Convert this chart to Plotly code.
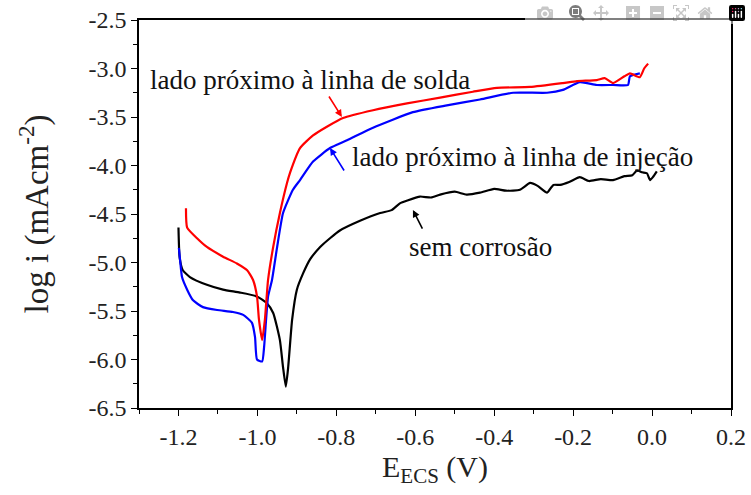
import plotly.graph_objects as go

# ---- data ----
sem_x = [-1.200, -1.197, -1.189, -1.171, -1.128, -1.087, -1.044, -1.001, -0.976, -0.960,
         -0.943, -0.935, -0.928, -0.922, -0.912, -0.900, -0.884, -0.867, -0.841, -0.816,
         -0.791, -0.740, -0.689, -0.660, -0.639, -0.620, -0.588, -0.560, -0.537, -0.500,
         -0.470, -0.436, -0.400, -0.370, -0.335, -0.309, -0.290, -0.266, -0.250, -0.233,
         -0.210, -0.183, -0.160, -0.130, -0.099, -0.070, -0.050, -0.038, -0.025, -0.013,
         -0.005, 0.002, 0.012]
sem_y = [-4.64, -4.95, -5.08, -5.15, -5.23, -5.28, -5.31, -5.35, -5.42, -5.52,
         -5.80, -6.08, -6.28, -6.08, -5.59, -5.28, -5.11, -4.97, -4.84, -4.75,
         -4.67, -4.57, -4.49, -4.46, -4.39, -4.36, -4.32, -4.33, -4.30, -4.27,
         -4.30, -4.28, -4.24, -4.26, -4.25, -4.18, -4.21, -4.28, -4.20, -4.20,
         -4.17, -4.12, -4.16, -4.14, -4.15, -4.11, -4.10, -4.05, -4.07, -4.08,
         -4.15, -4.12, -4.06]

solda_x = [-1.181, -1.178, -1.153, -1.128, -1.087, -1.052, -1.026, -1.011, -1.001, -0.996,
           -0.988, -0.981, -0.973, -0.960, -0.943, -0.925, -0.917, -0.892, -0.859, -0.824,
           -0.783, -0.707, -0.621, -0.537, -0.454, -0.393, -0.309, -0.226, -0.190, -0.140,
           -0.120, -0.099, -0.070, -0.056, -0.031, -0.020, -0.010]
solda_y = [-4.44, -4.64, -4.75, -4.84, -4.94, -5.01, -5.08, -5.18, -5.35, -5.59,
           -5.80, -5.59, -5.18, -4.84, -4.49, -4.18, -4.07, -3.82, -3.69, -3.60,
           -3.51, -3.43, -3.36, -3.30, -3.24, -3.20, -3.19, -3.15, -3.13, -3.12,
           -3.10, -3.15, -3.08, -3.05, -3.09, -3.00, -2.95]

injecao_x = [-1.199, -1.196, -1.191, -1.178, -1.163, -1.138, -1.102, -1.062, -1.036, -1.014,
             -1.006, -1.001, -0.988, -0.983, -0.978, -0.973, -0.963, -0.950, -0.935, -0.910,
             -0.892, -0.859, -0.816, -0.773, -0.707, -0.606, -0.520, -0.436, -0.352, -0.266,
             -0.226, -0.183, -0.140, -0.099, -0.061, -0.056, -0.031]
injecao_y = [-4.85, -4.97, -5.15, -5.28, -5.39, -5.46, -5.49, -5.51, -5.54, -5.62,
             -5.77, -6.00, -6.02, -5.87, -5.59, -5.35, -5.18, -4.84, -4.49, -4.25,
             -4.15, -3.96, -3.82, -3.74, -3.61, -3.45, -3.38, -3.32, -3.25, -3.25,
             -3.22, -3.14, -3.17, -3.17, -3.17, -3.08, -3.05]

x_tickvals = [-1.2, -1.0, -0.8, -0.6, -0.4, -0.2, 0.0, 0.2]
x_ticktext = ["-1.2", "-1.0", "-0.8", "-0.6", "-0.4", "-0.2", "0.0", "0.2"]
y_tickvals = [-2.5, -3.0, -3.5, -4.0, -4.5, -5.0, -5.5, -6.0, -6.5]
y_ticktext = ["-2.5", "-3.0", "-3.5", "-4.0", "-4.5", "-5.0", "-5.5", "-6.0", "-6.5"]

label_solda = "lado próximo à linha de solda"
label_injecao = "lado próximo à linha de injeção"
label_sem = "sem corrosão"

FONT = "Liberation Serif, Times New Roman, serif"

fig = go.Figure()
fig.add_trace(go.Scatter(x=sem_x, y=sem_y, mode="lines",
                         line=dict(color="#000000", width=2.2, shape="spline", smoothing=0.5), name=label_sem))
fig.add_trace(go.Scatter(x=injecao_x, y=injecao_y, mode="lines",
                         line=dict(color="#0000FF", width=2.2, shape="spline", smoothing=0.5), name=label_injecao))
fig.add_trace(go.Scatter(x=solda_x, y=solda_y, mode="lines",
                         line=dict(color="#FF0000", width=2.2, shape="spline", smoothing=0.5), name=label_solda))

fig.update_xaxes(
    range=[-1.3, 0.2], tickvals=x_tickvals, ticktext=x_ticktext,
    automargin="bottom", ticklabeloverflow="allow",
    showline=True, mirror=True, linecolor="black", linewidth=1.5,
    ticks="outside", ticklen=6, tickwidth=1.3, tickcolor="black",
    showgrid=False, zeroline=False,
    tickfont=dict(family=FONT, size=24, color="#222222"),
    minor=dict(ticks="outside", ticklen=4, tickwidth=1.2, tickcolor="black", dtick=0.1, tick0=0),
    title=dict(text="E<sub>ECS</sub> (V)", font=dict(family=FONT, size=30, color="#222222"), standoff=2),
)
fig.update_yaxes(
    range=[-6.5, -2.5], tickvals=y_tickvals, ticktext=y_ticktext,
    automargin="left", ticklabeloverflow="allow",
    showline=True, mirror=True, linecolor="black", linewidth=1.5,
    ticks="outside", ticklen=6, tickwidth=1.3, tickcolor="black",
    showgrid=False, zeroline=False,
    tickfont=dict(family=FONT, size=24, color="#222222"),
    minor=dict(ticks="outside", ticklen=4, tickwidth=1.2, tickcolor="black", dtick=0.25, tick0=0),
    title=dict(text="log i (mAcm<sup>-2</sup>)", font=dict(family=FONT, size=33, color="#222222"), standoff=30),
)

ann_font = dict(family=FONT, size=27, color="#111111")
fig.add_annotation(x=-1.277, y=-3.12, xref="x", yref="y", text=label_solda, showarrow=False,
                   xanchor="left", yanchor="middle", font=ann_font)
fig.add_annotation(x=-0.765, y=-3.91, xref="x", yref="y", text=label_injecao, showarrow=False,
                   xanchor="left", yanchor="middle", font=ann_font)
fig.add_annotation(x=-0.621, y=-4.84, xref="x", yref="y", text=label_sem, showarrow=False,
                   xanchor="left", yanchor="middle", font=ann_font)

# pointer arrows
for (hx, hy, tx, ty, col) in [(-0.786, -3.50, -0.821, -3.273, "#FF0000"),
                              (-0.816, -3.82, -0.778, -4.067, "#0000FF"),
                              (-0.606, -4.459, -0.580, -4.665, "#000000")]:
    fig.add_annotation(x=hx, y=hy, ax=tx, ay=ty, xref="x", yref="y", axref="x", ayref="y",
                       text="", showarrow=True, arrowhead=2, arrowsize=0.9, arrowwidth=1.6,
                       arrowcolor=col, standoff=0, startstandoff=0)

fig.update_layout(
    width=751, height=495,
    margin=dict(l=139, r=20, t=20, b=87),
    paper_bgcolor="white", plot_bgcolor="white",
    font=dict(family=FONT, size=24, color="#222222"),
    showlegend=False,
)

# remove the page's default 8px body margin so the figure fills the window exactly
fig.write_html("out.html", post_script="document.body.style.margin='0px';")
